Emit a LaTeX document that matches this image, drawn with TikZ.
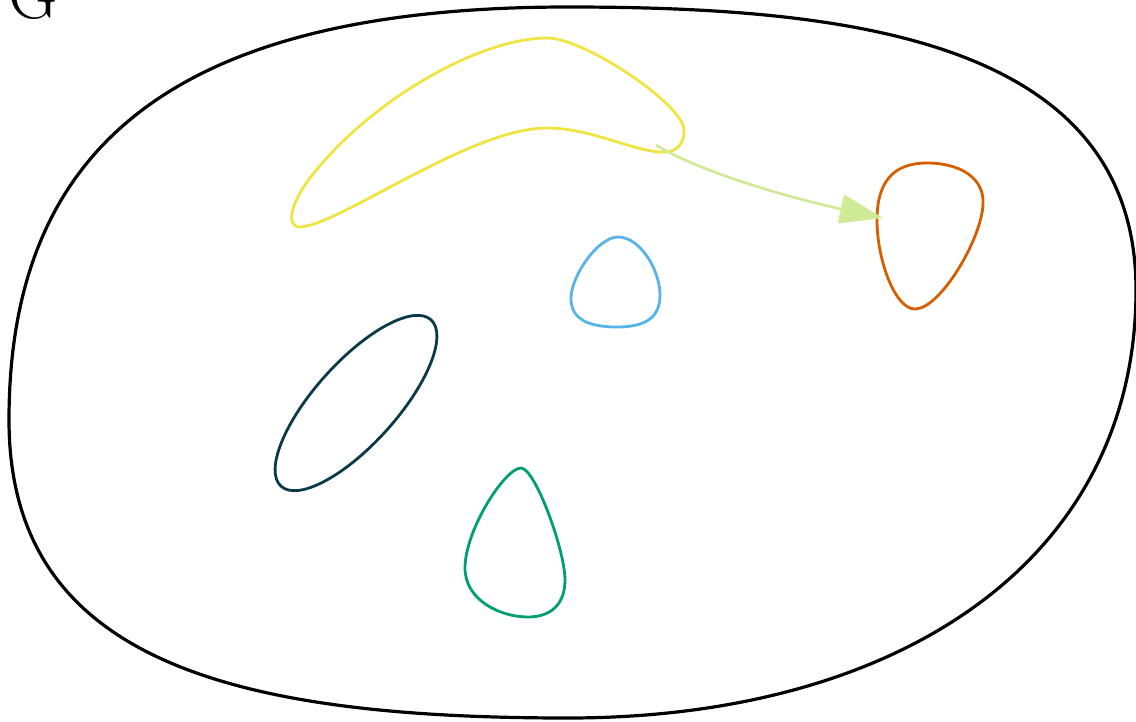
\documentclass[tikz,border=0pt]{standalone}
\usetikzlibrary{arrows.meta}
\definecolor{cyellow}{HTML}{F0E442}
\definecolor{cblue}{HTML}{56B4E9}
\definecolor{corange}{HTML}{D55E00}
\definecolor{cgreen}{HTML}{009E73}
\definecolor{cdark}{HTML}{0A3A48}
\definecolor{carrow}{HTML}{CFEB96}
\tikzset{
  region/.style={line width=2.8pt, line join=round},
  outer/.style={line width=3.2pt, draw=black},
}
\begin{document}
\begin{tikzpicture}[x=1pt,y=-1pt]
\useasboundingbox (0,0) rectangle (1136,721);
\node[anchor=base west, inner sep=0pt, font=\fontsize{68}{72}\selectfont] (glabel) at (8,18) {G};
% outer set
\draw[outer] (568,7) .. controls (850,7) and (1136,40) .. (1136,290)
  .. controls (1136,560) and (900,718) .. (568,718)
  .. controls (230,718) and (9,660) .. (9,420)
  .. controls (9,150) and (170,7) .. (568,7) -- cycle;
% yellow
\draw[region, draw=cyellow] (547,38) .. controls (585,38) and (684,105) .. (684,130)
  .. controls (684,150) and (670,153) .. (660,152)
  .. controls (630,150) and (590,128) .. (547,128)
  .. controls (470,128) and (340,225) .. (300,227)
  .. controls (286,227) and (290,204) .. (310,178)
  .. controls (370,100) and (480,38) .. (547,38) -- cycle;
% orange
\draw[region, draw=corange] (927,163) .. controls (960,163) and (985,178) .. (983,205)
  .. controls (981,240) and (940,309) .. (915,309)
  .. controls (895,309) and (877,260) .. (877,220)
  .. controls (877,180) and (895,163) .. (927,163) -- cycle;
% blue
\draw[region, draw=cblue] (618,237) .. controls (640,237) and (660,270) .. (660,295)
  .. controls (660,318) and (645,327) .. (617,327)
  .. controls (590,327) and (570,320) .. (571,297)
  .. controls (572,275) and (598,237) .. (618,237) -- cycle;
% dark
\draw[region, draw=cdark, rotate around={48:(356,403)}] (356,403) ellipse [x radius=112, y radius=41];
% green
\draw[region, draw=cgreen] (521,468) .. controls (535,468) and (565,550) .. (565,580)
  .. controls (565,605) and (550,617) .. (528,617)
  .. controls (500,617) and (465,600) .. (465,568)
  .. controls (465,530) and (505,468) .. (521,468) -- cycle;
% arrow
\coordinate (astart) at (656,145);
\coordinate (aend) at (883,218);
\draw[carrow, line width=2.7pt, -{Triangle[length=43pt, width=29pt]}]
  (astart) .. controls (700,172) and (790,198) .. (aend);
\end{tikzpicture}
\end{document}
